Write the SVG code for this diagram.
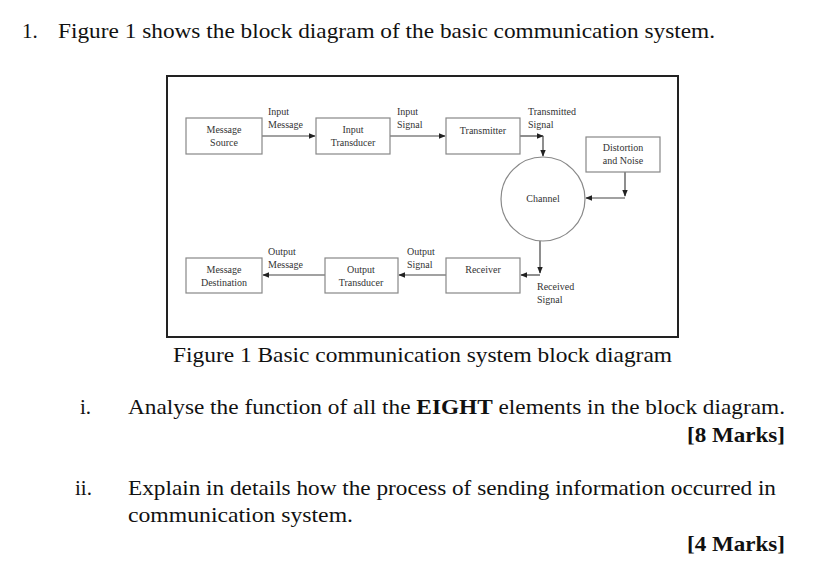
<svg xmlns="http://www.w3.org/2000/svg" width="834" height="567" viewBox="0 0 834 567">
<defs>
<style>
.t{font-family:"Liberation Serif",serif;font-size:21px;fill:#111}
.s{font-family:"Liberation Serif",serif;font-size:10px;fill:#333}
.b{fill:#fff;stroke:#888;stroke-width:1.2}
.c{fill:none;stroke:#444;stroke-width:1.2}
</style>
<marker id="a" viewBox="0 0 10 10" refX="9" refY="5" markerWidth="6" markerHeight="6" orient="auto"><path d="M0,1 L10,5 L0,9 z" fill="#222"/></marker>
</defs>
<rect width="834" height="567" fill="#fff"/>
<text class="t" x="22" y="38">1.</text>
<text class="t" x="58" y="38" textLength="657" lengthAdjust="spacingAndGlyphs">Figure 1 shows the block diagram of the basic communication system.</text>
<rect x="167" y="76" width="511" height="261" fill="#fff" stroke="#222" stroke-width="2"/>
<g id="connectors" class="c">
<path d="M262,136 H315" marker-end="url(#a)"/>
<path d="M390,136 H445" marker-end="url(#a)"/>
<path d="M520,136 H543" marker-end="url(#a)"/>
<path d="M543,136 V156" marker-end="url(#a)"/>
<path d="M625,172 V196" marker-end="url(#a)"/>
<path d="M625,198 H586" marker-end="url(#a)"/>
<path d="M540,241 V273" marker-end="url(#a)"/>
<path d="M540,275 H521" marker-end="url(#a)"/>
<path d="M446,275 H399" marker-end="url(#a)"/>
<path d="M325,275 H263" marker-end="url(#a)"/>
</g>
<g id="source"><rect class="b" x="186" y="118" width="76" height="36"/><text class="s" text-anchor="middle" x="224" y="133">Message</text><text class="s" text-anchor="middle" x="224" y="146">Source</text></g>
<g id="inTrans"><rect class="b" x="316" y="118" width="74" height="36"/><text class="s" text-anchor="middle" x="353" y="133">Input</text><text class="s" text-anchor="middle" x="353" y="146">Transducer</text></g>
<g id="transmitter"><rect class="b" x="446" y="118" width="74" height="36"/><text class="s" text-anchor="middle" x="483" y="134">Transmitter</text></g>
<g id="noise"><rect class="b" x="586" y="137" width="74" height="35"/><text class="s" text-anchor="middle" x="623" y="151">Distortion</text><text class="s" text-anchor="middle" x="623" y="164">and Noise</text></g>
<g id="channel"><circle cx="543" cy="199" r="42" fill="#fff" stroke="#888" stroke-width="1.2"/><text class="s" text-anchor="middle" x="543" y="202">Channel</text></g>
<g id="dest"><rect class="b" x="186" y="258" width="76" height="35"/><text class="s" text-anchor="middle" x="224" y="273">Message</text><text class="s" text-anchor="middle" x="224" y="286">Destination</text></g>
<g id="outTrans"><rect class="b" x="325" y="258" width="73" height="35"/><text class="s" text-anchor="middle" x="361" y="273">Output</text><text class="s" text-anchor="middle" x="361" y="286">Transducer</text></g>
<g id="receiver"><rect class="b" x="446" y="258" width="74" height="35"/><text class="s" text-anchor="middle" x="483" y="273">Receiver</text></g>
<g id="labels">
<text class="s" x="268" y="115">Input</text><text class="s" x="268" y="128">Message</text>
<text class="s" x="397" y="115">Input</text><text class="s" x="397" y="128">Signal</text>
<text class="s" x="528" y="115">Transmitted</text><text class="s" x="528" y="128">Signal</text>
<text class="s" x="268" y="255">Output</text><text class="s" x="268" y="268">Message</text>
<text class="s" x="407" y="255">Output</text><text class="s" x="407" y="268">Signal</text>
<text class="s" x="537" y="290">Received</text><text class="s" x="537" y="303">Signal</text>
</g>
<text class="t" x="173" y="362" textLength="499" lengthAdjust="spacingAndGlyphs">Figure 1 Basic communication system block diagram</text>
<text class="t" x="80" y="414">i.</text>
<text class="t" x="128" y="414" textLength="657" lengthAdjust="spacingAndGlyphs">Analyse the function of all the <tspan font-weight="bold">EIGHT</tspan> elements in the block diagram.</text>
<text class="t" x="687" y="442" font-weight="bold" textLength="98" lengthAdjust="spacingAndGlyphs">[8 Marks]</text>
<text class="t" x="75" y="495">ii.</text>
<text class="t" x="128" y="495" textLength="648" lengthAdjust="spacingAndGlyphs">Explain in details how the process of sending information occurred in</text>
<text class="t" x="128" y="522" textLength="225" lengthAdjust="spacingAndGlyphs">communication system.</text>
<text class="t" x="687" y="551" font-weight="bold" textLength="98" lengthAdjust="spacingAndGlyphs">[4 Marks]</text>
</svg>
